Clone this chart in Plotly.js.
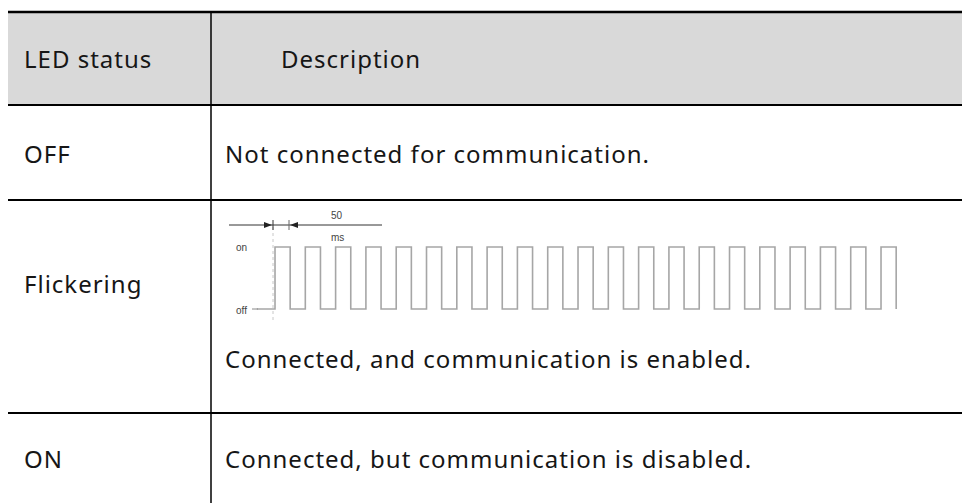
<!DOCTYPE html>
<html>
<head>
<meta charset="utf-8">
<script src="https://cdn.plot.ly/plotly-3.0.1.min.js"></script>
<style>html,body{margin:0;padding:0;background:#fff;}#chart{width:962px;height:503px;}</style>
</head>
<body>
<div id="chart"></div>
<script>
// ---- data ----
const headerLabels = ['LED status', 'Description'];
const statusLabels = ['OFF', 'Flickering', 'ON'];
const descriptions = [
  'Not connected for communication.',
  'Connected, and communication is enabled.',
  'Connected, but communication is disabled.'
];
// flicker waveform: edge times (ms) and level after each edge
const waveTimesMs = [-60, 0, 50, 100, 150, 200, 250, 300, 350, 400, 450, 500, 550, 600, 650, 700, 750, 800, 850, 900, 950,
  1000, 1050, 1100, 1150, 1200, 1250, 1300, 1350, 1400, 1450, 1500, 1550, 1600, 1650, 1700, 1750, 1800, 1850, 1900, 1950, 2000, 2050];
const waveLevels = [0, 1, 0, 1, 0, 1, 0, 1, 0, 1, 0, 1, 0, 1, 0, 1, 0, 1, 0, 1, 0,
  1, 0, 1, 0, 1, 0, 1, 0, 1, 0, 1, 0, 1, 0, 1, 0, 1, 0, 1, 0, 1, 0];
const levelLabels = ['off', 'on'];
const pulseWidthLabel = ['50', 'ms'];

// ---- layout constants ----
const W = 962, H = 503;
const tableLeft = 8, colDiv = 211;
const rowEdges = [12, 105, 200, 413, 503];
const textFont = {family: 'Noto Sans, sans-serif', size: 24, color: '#161616'};
const smallFont = {family: 'Liberation Sans, Arial, sans-serif', size: 10, color: '#444'};

const shapes = [];
// header background
shapes.push({type: 'rect', xref: 'x', yref: 'y', x0: tableLeft, x1: W, y0: rowEdges[0], y1: rowEdges[1],
  fillcolor: '#d9d9d9', line: {width: 0}, layer: 'below'});
// horizontal rules
rowEdges.slice(0, 4).forEach((y, i) => {
  shapes.push({type: 'line', xref: 'x', yref: 'y', x0: tableLeft, x1: W, y0: y, y1: y,
    line: {color: '#000', width: i === 0 ? 2.5 : 2}});
});
// column divider
shapes.push({type: 'line', xref: 'x', yref: 'y', x0: colDiv, x1: colDiv, y0: rowEdges[0], y1: H,
  line: {color: '#000', width: 1.5}});
// dotted guide at waveform start
shapes.push({type: 'line', xref: 'x', yref: 'y', x0: 273, x1: 273, y0: 227, y1: 322,
  line: {color: '#c8c8c8', width: 1, dash: 'dot'}});
// 50 ms bracket
shapes.push({type: 'line', xref: 'x', yref: 'y', x0: 229, x1: 382, y0: 225, y1: 225, line: {color: '#333', width: 1}});
shapes.push({type: 'line', xref: 'x', yref: 'y', x0: 273, x1: 273, y0: 220, y1: 230, line: {color: '#333', width: 1}});
shapes.push({type: 'line', xref: 'x', yref: 'y', x0: 289, x1: 289, y0: 220, y1: 230, line: {color: '#666', width: 1}});
shapes.push({type: 'path', xref: 'x', yref: 'y', path: 'M 264 222 L 272 225 L 264 228 Z', fillcolor: '#222', line: {width: 0}});
shapes.push({type: 'path', xref: 'x', yref: 'y', path: 'M 298 222 L 290 225 L 298 228 Z', fillcolor: '#222', line: {width: 0}});
// off baseline lead-in mark
shapes.push({type: 'line', xref: 'x', yref: 'y', x0: 252, x1: 258, y0: 309, y1: 309, line: {color: '#888', width: 1}});

const annotations = [];
function txt(x, y, text, font, xanchor, spacing) {
  const t = spacing ? '<span style="letter-spacing:' + spacing + 'px">' + text + '</span>' : text;
  annotations.push({xref: 'x', yref: 'y', x: x, y: y, text: t, showarrow: false,
    xanchor: xanchor || 'left', yanchor: 'middle', font: font});
}
const SP = 1;
txt(22, 58, headerLabels[0], textFont, 'left', SP);
txt(279, 58, headerLabels[1], textFont, 'left', SP);
const labelY = [153, 283, 458];
const descY = [153, 358, 458];
statusLabels.forEach((s, i) => txt(22, labelY[i], s, textFont, 'left', SP));
descriptions.forEach((d, i) => txt(223, descY[i], d, textFont, 'left', SP));
// waveform labels
txt(234, 247, levelLabels[1], {family: smallFont.family, size: 10, color: '#444'});
txt(234, 310, levelLabels[0], {family: smallFont.family, size: 10, color: '#444'});
txt(337, 215, pulseWidthLabel[0], smallFont, 'center');
txt(337, 237, pulseWidthLabel[1], smallFont, 'center');

const wave = {
  type: 'scatter', mode: 'lines', x: waveTimesMs, y: waveLevels, xaxis: 'x2', yaxis: 'y2',
  line: {shape: 'hv', color: '#a6a6a6', width: 1.6}, hoverinfo: 'skip', showlegend: false
};
const anchor = {type: 'scatter', mode: 'markers', x: [0], y: [0], marker: {opacity: 0}, hoverinfo: 'skip', showlegend: false};

const layout = {
  width: W, height: H, margin: {l: 0, r: 0, t: 0, b: 0},
  paper_bgcolor: '#fff', plot_bgcolor: 'rgba(0,0,0,0)', showlegend: false,
  xaxis: {range: [0, W], visible: false, domain: [0, 1], fixedrange: true},
  yaxis: {range: [H, 0], visible: false, domain: [0, 1], fixedrange: true},
  xaxis2: {range: [-70, 2060], visible: false, domain: [253.8 / W, 899.2 / W], anchor: 'y2', fixedrange: true},
  yaxis2: {range: [-0.05, 1.05], visible: false, domain: [(H - 312.1) / H, (H - 243.9) / H], anchor: 'x2', fixedrange: true},
  shapes: shapes, annotations: annotations
};
Plotly.newPlot('chart', [anchor, wave], layout, {displayModeBar: false, staticPlot: true});
</script>
</body>
</html>
